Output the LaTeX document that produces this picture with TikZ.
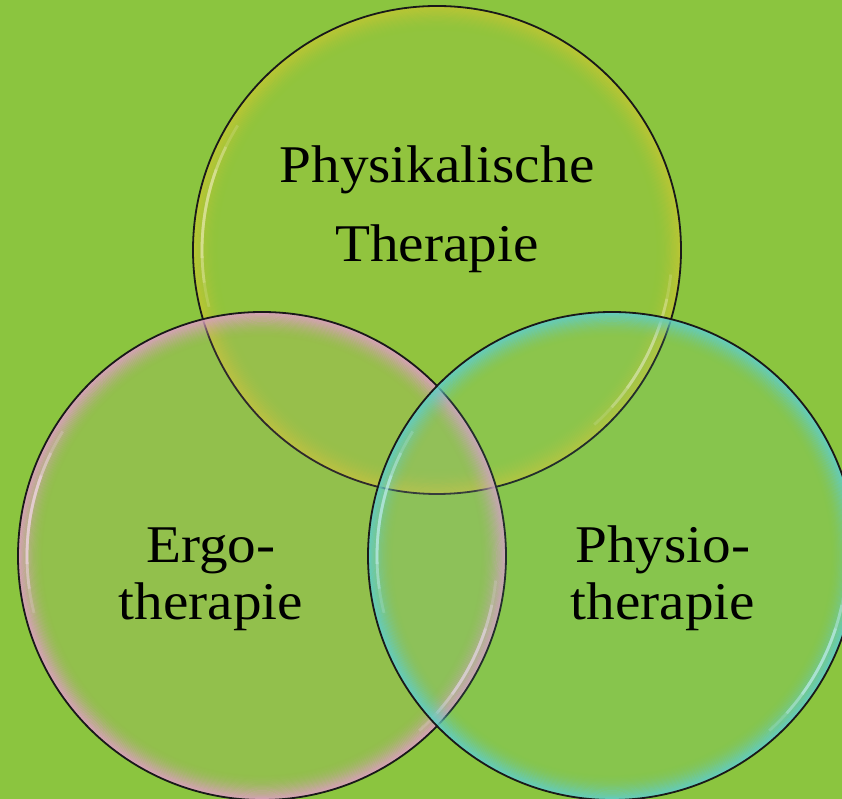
\documentclass[tikz,border=0pt]{standalone}
\usepackage{fontspec}
\setmainfont{Liberation Serif}[FakeStretch=1.08]
\definecolor{bg}{HTML}{8BC53F}
\definecolor{rimtop}{HTML}{BCC634}
\definecolor{rimleft}{HTML}{DBA0BE}
\definecolor{rimright}{HTML}{62CDC4}
\definecolor{tinttop}{HTML}{B0C23A}
\definecolor{tintleft}{HTML}{C8A0B0}
\definecolor{tintright}{HTML}{70CDB8}
\newcommand\mybubble[5]{% #1 center, #2 radius, #3 rim colour, #4 tint, #5 tint opacity
  \fill[#4, fill opacity=#5] (#1) circle[radius=#2];
  \foreach \i in {1,...,24} {
    \pgfmathsetmacro\op{0.95*(1-\i/24)^2}
    \draw[#3, line width=1.4pt, draw opacity=\op] (#1) circle[radius=#2-\i*1.1];
  }
  \foreach \a/\b/\o in {148/194/0.25,154/188/0.4,160/182/0.55,-48/-6/0.25,-42/-12/0.4,-36/-18/0.55} {
    \draw[white!55!#3, line width=2.8pt, draw opacity=\o]
      ([shift={(\a:#2-9)}]#1) arc[start angle=\a, end angle=\b, radius=#2-9];
  }
  \draw[black!90, line width=1.8pt] (#1) circle[radius=#2];
}
\tikzset{
  label/.style={font=\fontsize{53}{57}\selectfont, align=center, anchor=base, text=black, inner sep=0pt}
}
\begin{document}
\begin{tikzpicture}[x=1pt,y=1pt]
  \useasboundingbox (0,0) rectangle (842,799);
  \fill[bg] (0,0) rectangle (842,799);
  \clip (0,0) rectangle (842,799);
  \coordinate (ctop) at (437,549);
  \coordinate (cleft) at (262,243);
  \coordinate (cright) at (612,243);
  \mybubble{ctop}{244}{rimtop}{tinttop}{0.18}
  \mybubble{cleft}{244}{rimleft}{tintleft}{0.12}
  \mybubble{cright}{244}{rimright}{tintright}{0.12}
  \node[label] (ttop) at (437,537) {Physikalische\\[22pt]Therapie};
  \node[label] (tleft) at (211,179) {Ergo-\\therapie};
  \node[label] (tright) at (663,179) {Physio-\\therapie};
\end{tikzpicture}
\end{document}
